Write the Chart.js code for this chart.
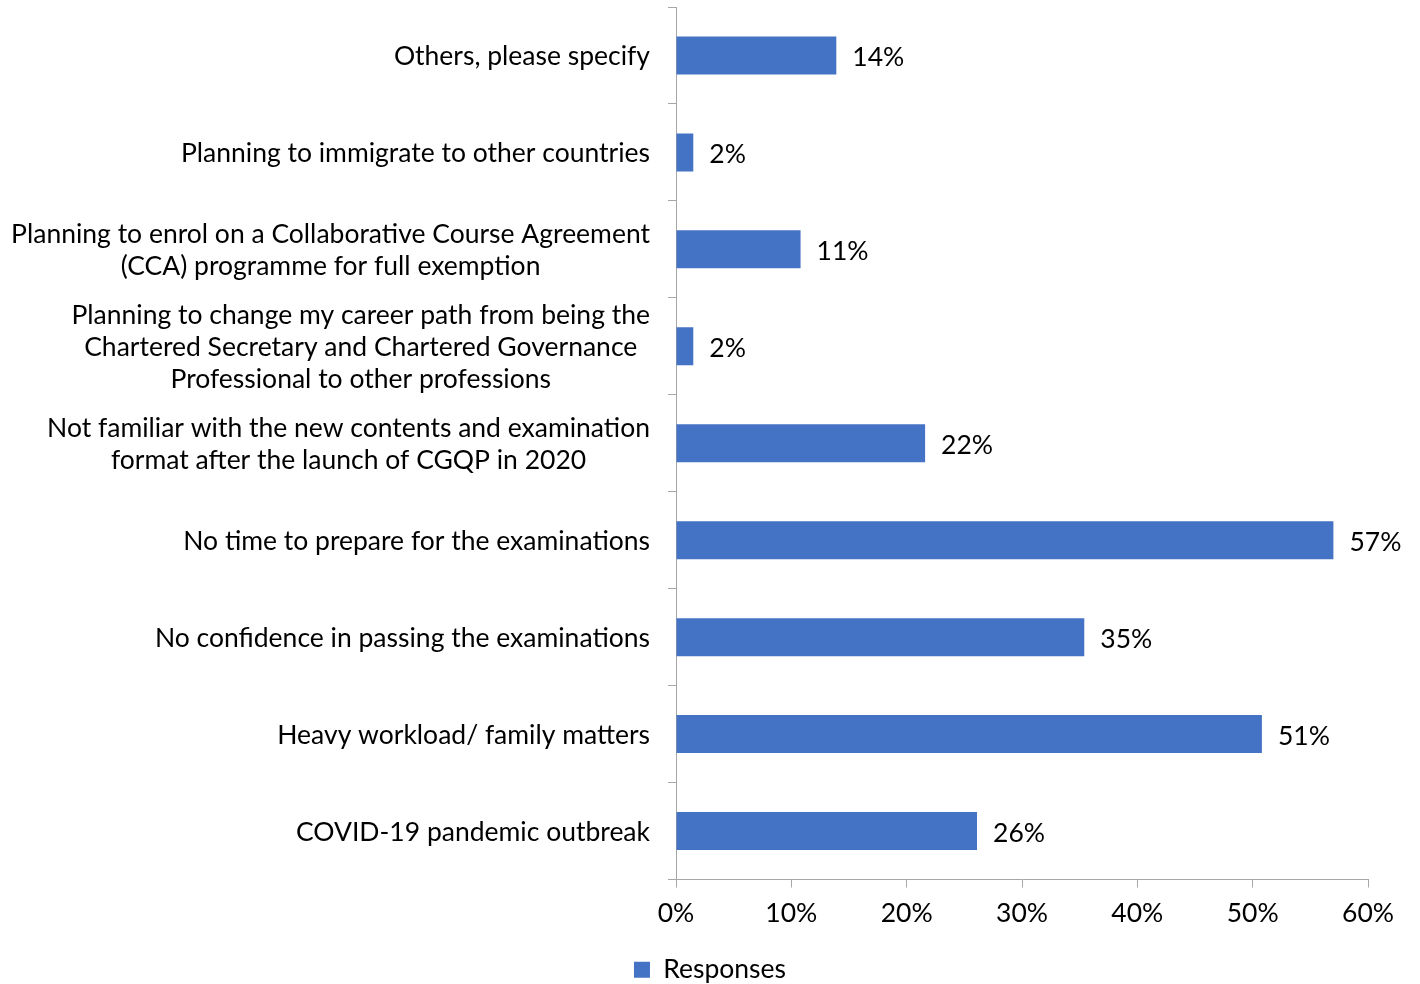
<!DOCTYPE html>
<html>
<head>
<meta charset="utf-8">
<script src="https://cdn.jsdelivr.net/npm/chart.js@4.4.1/dist/chart.umd.min.js"></script>
<style>
  html, body { margin: 0; padding: 0; background: #fff; }
  #wrap { width: 1420px; height: 984px; }
</style>
</head>
<body>
<div id="wrap"><canvas id="c"></canvas></div>
<script>
const categories = [
  ["Others, please specify"],
  ["Planning to immigrate to other countries"],
  ["Planning to enrol on a Collaborative Course Agreement", "(CCA) programme for full exemption"],
  ["Planning to change my career path from being the", "Chartered Secretary and Chartered Governance", "Professional to other professions"],
  ["Not familiar with the new contents and examination", "format after the launch of CGQP in 2020"],
  ["No time to prepare for the examinations"],
  ["No confidence in passing the examinations"],
  ["Heavy workload/ family matters"],
  ["COVID-19 pandemic outbreak"]
];
const responses = [13.9, 1.5, 10.8, 1.5, 21.6, 57.0, 35.4, 50.8, 26.1];
const valueLabels = ["14%", "2%", "11%", "2%", "22%", "57%", "35%", "51%", "26%"];
const xTicks = [0, 10, 20, 30, 40, 50, 60];
const seriesName = "Responses";

const FONT = "Lato";
const FS = 26.5;
const BLUE = "#4472C4";
const AXIS = "#A6A6A6";

const yLabelPlugin = {
  id: "yLabels",
  afterDraw(chart) {
    const ctx = chart.ctx;
    const ys = chart.scales.y;
    const right = ys.right - 26;
    const lh = 32;
    ctx.save();
    ctx.font = FS + "px " + FONT;
    ctx.fillStyle = "#000";
    ctx.textAlign = "center";
    ctx.textBaseline = "middle";
    categories.forEach((lines, i) => {
      const py = ys.getPixelForTick(i);
      let maxW = 0;
      lines.forEach(l => { maxW = Math.max(maxW, ctx.measureText(l).width); });
      const cx = right - maxW / 2;
      const y0 = py - (lines.length - 1) * lh / 2;
      lines.forEach((l, k) => ctx.fillText(l, cx, y0 + k * lh + 1));
    });
    ctx.restore();
  }
};

const valuePlugin = {
  id: "valueLabels",
  afterDatasetsDraw(chart) {
    const ctx = chart.ctx;
    const meta = chart.getDatasetMeta(0);
    ctx.save();
    ctx.font = FS + "px " + FONT;
    ctx.fillStyle = "#000";
    ctx.textAlign = "left";
    ctx.textBaseline = "middle";
    meta.data.forEach((bar, i) => {
      ctx.fillText(valueLabels[i], bar.x + 16, bar.y + 2);
    });
    ctx.restore();
  }
};

new Chart(document.getElementById("c"), {
  type: "bar",
  data: {
    labels: categories.map(c => c.join(" ")),
    datasets: [{
      label: seriesName,
      data: responses,
      backgroundColor: BLUE,
      borderWidth: 0,
      barPercentage: 0.8,
      categoryPercentage: 0.49
    }]
  },
  options: {
    indexAxis: "y",
    responsive: true,
    maintainAspectRatio: false,
    animation: false,
    devicePixelRatio: 1,
    layout: { padding: { top: 7, right: 0, left: 0, bottom: -9 } },
    plugins: {
      tooltip: { enabled: false },
      legend: {
        position: "bottom",
        align: "center",
        labels: {
          font: { family: FONT, size: FS },
          color: "#000",
          boxWidth: 16,
          boxHeight: 16,
          padding: 2,
          generateLabels: (chart) => [{
            text: seriesName,
            fillStyle: BLUE,
            strokeStyle: BLUE,
            lineWidth: 0,
            datasetIndex: 0
          }]
        }
      }
    },
    scales: {
      x: {
        type: "linear",
        min: 0,
        max: 60,
        afterBuildTicks: (s) => { s.ticks = xTicks.map(v => ({ value: v })); },
        ticks: {
          callback: (v) => v + "%",
          font: { family: FONT, size: FS },
          color: "#000",
          padding: 10,
          maxRotation: 0
        },
        grid: { drawOnChartArea: false, drawTicks: true, tickLength: 8, color: AXIS },
        border: { color: AXIS, width: 1 },
        afterFit: (s) => { s.height = 75; s.paddingRight = 52; }
      },
      y: {
        type: "category",
        offset: true,
        ticks: { display: false },
        grid: { offset: true, drawOnChartArea: false, drawTicks: true, tickLength: 8, color: AXIS },
        border: { color: AXIS, width: 1 },
        afterFit: (s) => { s.width = 676; }
      }
    }
  },
  plugins: [yLabelPlugin, valuePlugin]
});
</script>
</body>
</html>
